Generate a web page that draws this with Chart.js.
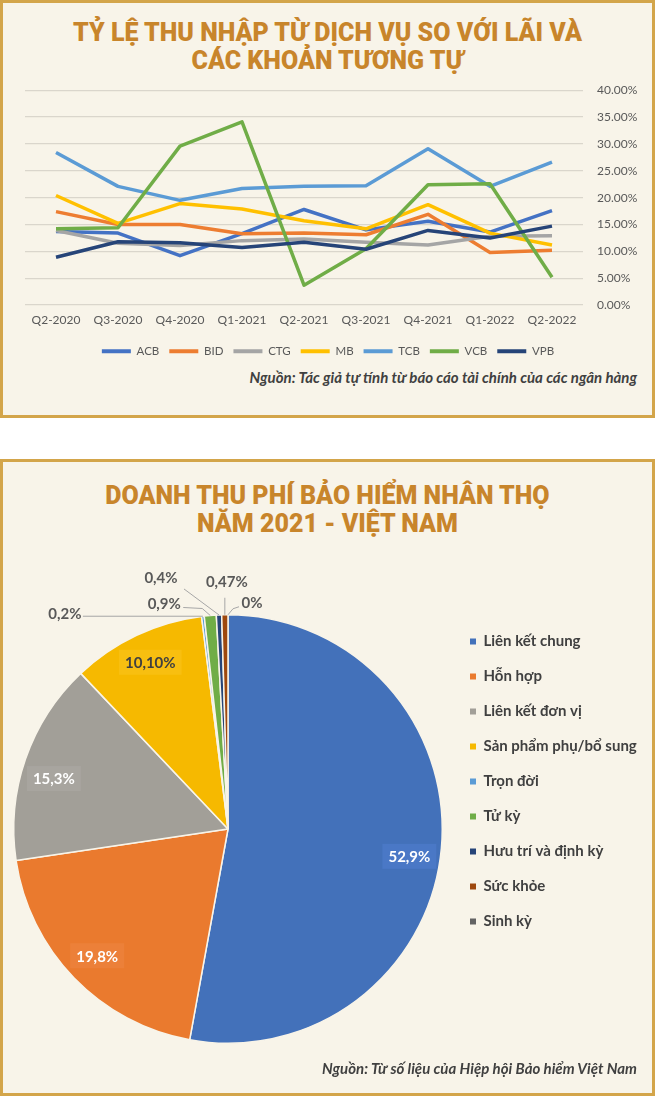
<!DOCTYPE html>
<html>
<head>
<meta charset="utf-8">
<script src="https://cdn.jsdelivr.net/npm/chart.js@4.4.0/dist/chart.umd.min.js"></script>
<style>
  body { margin: 0; width: 655px; height: 1097px; background: #fff; position: relative; overflow: hidden; }
  .panel { position: absolute; left: 0; width: 655px; box-sizing: border-box; border: 3px solid #D3A54A; background: #F8F4E9; }
  #p1 { top: 0; height: 418px; }
  #p2 { top: 459px; height: 637px; }
  .title { position: absolute; left: 0; width: 655px; text-align: center; color: #C8852B;
           font-family: Roboto, "DejaVu Sans Condensed", sans-serif; font-weight: 900; font-size: 25px; line-height: 28px; }
  .src { position: absolute; right: 18px; color: #404040; font-family: Lato, sans-serif;
         font-style: italic; font-weight: bold; font-size: 15px; }
  canvas { position: absolute; }
</style>
</head>
<body>
<div class="panel" id="p1"></div>
<div class="panel" id="p2"></div>

<div class="title" style="top:19px">TỶ LỆ THU NHẬP TỪ DỊCH VỤ SO VỚI LÃI VÀ<br>CÁC KHOẢN TƯƠNG TỰ</div>
<canvas id="lineChart" width="648" height="298" style="left:3px;top:69px"></canvas>
<div class="src" style="top:368px">Nguồn: Tác giả tự tính từ báo cáo tài chính của các ngân hàng</div>

<div class="title" style="top:482px">DOANH THU PHÍ BẢO HIỂM NHÂN THỌ<br>NĂM 2021 - VIỆT NAM</div>
<canvas id="pieChart" width="648" height="500" style="left:3px;top:560px"></canvas>
<div class="src" style="top:1059px">Nguồn: Từ số liệu của Hiệp hội Bảo hiểm Việt Nam</div>

<script>
// Line chart data (%)
const quarters = ['Q2-2020', 'Q3-2020', 'Q4-2020', 'Q1-2021', 'Q2-2021', 'Q3-2021', 'Q4-2021', 'Q1-2022', 'Q2-2022'];
const banks = ['ACB', 'BID', 'CTG', 'MB', 'TCB', 'VCB', 'VPB'];
const acb = [13.7, 13.4, 9.2, 13.3, 17.8, 14.0, 15.6, 13.6, 17.6];
const bid = [17.4, 15.0, 15.0, 13.3, 13.4, 13.1, 16.9, 9.8, 10.2];
const ctg = [13.9, 11.5, 11.1, 12.0, 12.3, 11.7, 11.2, 12.8, 12.9];
const mb = [20.4, 15.2, 18.9, 17.9, 15.7, 14.2, 18.7, 13.4, 11.2];
const tcb = [28.4, 22.1, 19.5, 21.7, 22.1, 22.2, 29.1, 22.1, 26.6];
const vcb = [14.2, 14.4, 29.6, 34.1, 3.7, 10.5, 22.4, 22.6, 5.2];
const vpb = [8.9, 11.8, 11.6, 10.7, 11.7, 10.4, 13.9, 12.5, 14.7];
const bankValues = [acb, bid, ctg, mb, tcb, vcb, vpb];

// Pie chart data (%)
const pieCategories = ['Liên kết chung', 'Hỗn hợp', 'Liên kết đơn vị', 'Sản phẩm phụ/bổ sung', 'Trọn đời',
                       'Tử kỳ', 'Hưu trí và định kỳ', 'Sức khỏe', 'Sinh kỳ'];
const pieValues = [52.9, 19.8, 15.3, 10.1, 0.2, 0.9, 0.4, 0.47, 0];
const pieLabels = ['52,9%', '19,8%', '15,3%', '10,10%', '0,2%', '0,9%', '0,4%', '0,47%', '0%'];

const bankColors = ['#4472C4', '#ED7D31', '#A5A5A5', '#FFC000', '#5B9BD5', '#70AD47', '#264478'];
const pieColors = ['#4371BA', '#EA7A2E', '#A29F98', '#F6B900', '#5B9BD5', '#70AD47', '#264478', '#9E480E', '#636363'];

// label placement for the pie (inside: nudge from 0.85R; outside: offset from the slice rim)
const labelLayout = [
    { inside: true, dx: 0, dy: 11, box: '#4A78C6', color: '#FFFFFF' },
    { inside: true, dx: 0, dy: 0, box: '#EC8039', color: '#FFFFFF' },
    { inside: true, dx: -2, dy: 9, box: '#A8A59F', color: '#FFFFFF' },
    { inside: true, dx: 0, dy: -2, box: '#F8BF10', color: '#404040' },
    { dx: -138, dy: -2, leader: [[-120, 0]] },
    { dx: -46, dy: -11, leader: [[-8, -7], [-27, -8]] },
    { dx: -58, dy: -37, leader: [[-35, -26]] },
    { dx: 2, dy: -33, leader: [[0, -17]] },
    { dx: 24, dy: -12, leader: [[5, -6], [11, -8]] }
];

const grey = '#595959';

new Chart(document.getElementById('lineChart'), {
    type: 'line',
    data: {
        labels: quarters,
        datasets: banks.map((name, i) => ({
            label: name,
            data: bankValues[i],
            borderColor: bankColors[i],
            backgroundColor: bankColors[i],
            borderWidth: 3.5,
            borderJoinStyle: 'round',
            pointRadius: 0,
            tension: 0,
            order: banks.length - i
        }))
    },
    options: {
        responsive: false,
        animation: false,
        layout: { padding: { left: 2, top: 7, right: 0, bottom: 0 } },
        plugins: {
            tooltip: { enabled: false },
            legend: {
                position: 'bottom',
                labels: {
                    boxWidth: 29,
                    boxHeight: 4,
                    padding: 10,
                    color: grey,
                    font: { family: 'Lato', size: 11.5 },
                    sort: (a, b) => a.datasetIndex - b.datasetIndex,
                    generateLabels: chart => Chart.defaults.plugins.legend.labels.generateLabels(chart)
                        .map(item => Object.assign(item, { lineWidth: 0 }))
                }
            }
        },
        scales: {
            x: {
                offset: true,
                grid: { display: false },
                border: { display: false },
                ticks: { color: grey, font: { family: 'Lato', size: 12 }, padding: 0, maxRotation: 0 },
                afterFit: scale => { scale.height += 8; }
            },
            y: {
                position: 'right',
                min: 0,
                max: 40,
                grid: { color: '#DAD6CC', lineWidth: 1.3, drawTicks: false },
                border: { display: false },
                ticks: {
                    stepSize: 5,
                    padding: 14,
                    color: grey,
                    font: { family: 'Lato', size: 12 },
                    callback: v => v.toFixed(2) + '%'
                },
                afterFit: scale => { scale.width = 68; }
            },
            // empty left gutter so the plot starts where the original does
            gutter: {
                type: 'linear',
                position: 'left',
                grid: { display: false },
                border: { display: false },
                ticks: { display: false },
                afterFit: scale => { scale.width = 20; }
            }
        }
    }
});

// fixes the width of the pie legend so the pie sits where it should
const fixLegend = {
    id: 'fixLegend',
    beforeInit(chart) {
        const fit = chart.legend.fit;
        chart.legend.fit = function () {
            fit.call(this);
            this.width = 201;
        };
    }
};

const sliceLabels = {
    id: 'sliceLabels',
    afterDatasetsDraw(chart) {
        const ctx = chart.ctx;
        chart.getDatasetMeta(0).data.forEach((arc, i) => {
            const { x, y, startAngle, endAngle, outerRadius } =
                arc.getProps(['x', 'y', 'startAngle', 'endAngle', 'outerRadius'], true);
            const mid = (startAngle + endAngle) / 2;
            const lay = labelLayout[i];
            ctx.save();
            ctx.font = 'bold 15px Lato';
            ctx.textAlign = 'center';
            ctx.textBaseline = 'middle';
            if (lay.inside) {
                const r = outerRadius * 0.85;
                const lx = x + Math.cos(mid) * r + lay.dx;
                const ly = y + Math.sin(mid) * r + lay.dy;
                const w = ctx.measureText(pieLabels[i]).width + 12;
                ctx.fillStyle = lay.box;
                ctx.fillRect(lx - w / 2, ly - 12.5, w, 25);
                ctx.fillStyle = lay.color;
                ctx.fillText(pieLabels[i], lx, ly + 1);
            } else {
                const ax = x + Math.cos(mid) * outerRadius;
                const ay = y + Math.sin(mid) * outerRadius;
                ctx.strokeStyle = '#A6A6A6';
                ctx.lineWidth = 1;
                ctx.beginPath();
                ctx.moveTo(ax, ay);
                lay.leader.forEach(p => ctx.lineTo(ax + p[0], ay + p[1]));
                ctx.stroke();
                ctx.fillStyle = grey;
                ctx.fillText(pieLabels[i], ax + lay.dx, ay + lay.dy);
            }
            ctx.restore();
        });
    }
};

new Chart(document.getElementById('pieChart'), {
    type: 'pie',
    data: {
        labels: pieCategories,
        datasets: [{
            data: pieValues,
            backgroundColor: pieColors,
            borderColor: '#F8F4E9',
            borderWidth: 1.5
        }]
    },
    options: {
        responsive: false,
        animation: false,
        layout: { padding: { left: 3, top: 54, right: 0, bottom: 16 } },
        plugins: {
            tooltip: { enabled: false },
            legend: {
                position: 'right',
                align: 'start',
                labels: {
                    boxWidth: 6,
                    boxHeight: 6,
                    padding: 20,
                    color: '#404040',
                    font: { family: 'Lato', size: 15, weight: 'bold' },
                    generateLabels: chart => Chart.overrides.pie.plugins.legend.labels.generateLabels(chart)
                        .map(item => Object.assign(item, { lineWidth: 0 }))
                }
            }
        }
    },
    plugins: [fixLegend, sliceLabels]
});
</script>
</body>
</html>
